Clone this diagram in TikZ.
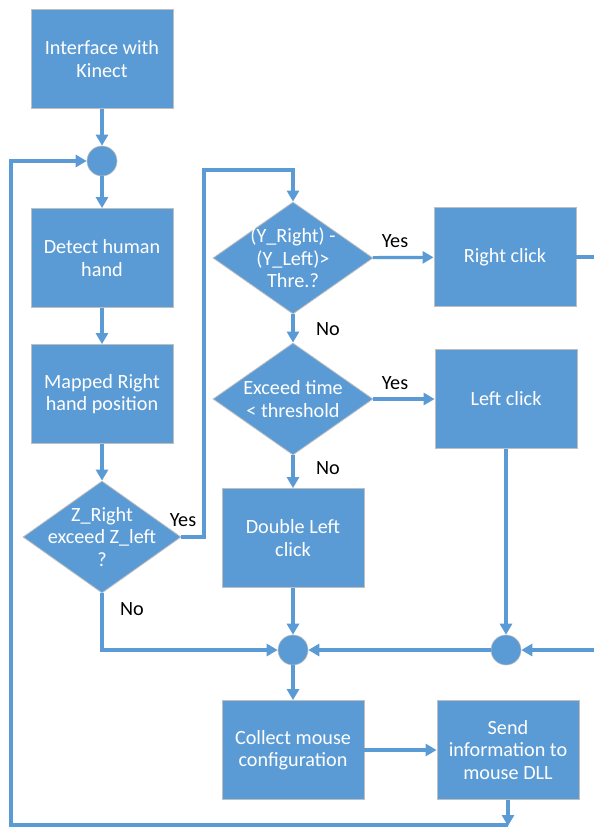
\documentclass[tikz,border=0pt]{standalone}
\usepackage{fontspec}
\setmainfont{Carlito}
\usetikzlibrary{arrows.meta,shapes.geometric}
\definecolor{blu}{HTML}{5B9BD5}
\definecolor{edge}{HTML}{BFBFBF}
\begin{document}
\begin{tikzpicture}[x=1pt,y=-1pt,
  box/.style={draw=edge, line width=0.8pt, fill=blu, text=white, minimum width=142pt, minimum height=99pt, inner sep=0pt, align=center, font=\fontsize{20.2}{22.5}\selectfont},
  dia/.style={diamond, draw=edge, line width=0.8pt, fill=blu, minimum width=160pt, minimum height=112pt, inner sep=0pt},
  dtext/.style={text=white, align=center, font=\fontsize{20.2}{22.5}\selectfont, inner sep=0pt},
  junc/.style={circle, draw=edge, line width=0.6pt, fill=blu, minimum size=30pt, inner sep=0pt},
  lab/.style={text=black, font=\fontsize{20.2}{22.5}\selectfont, inner sep=0pt},
  conn/.style={draw=blu, line width=3.2pt},
  arr/.style={conn, -{Triangle[length=11pt,width=12pt]}}
]
\useasboundingbox (0,0) rectangle (594,827);
\fill[white] (0,0) rectangle (594,827);

\node[box] (n1) at (102,59) {Interface with\\Kinect};
\node[junc] (c1) at (102,161) {};
\node[box] (n2) at (102,258) {Detect human\\hand};
\node[box] (n3) at (102,394) {Mapped Right\\hand position};
\node[dia, minimum width=158pt] (d1) at (102,537) {};
\node[dtext] at (d1) {Z\_Right\\exceed Z\_left\\?};

\node[dia] (d2) at (293,258) {};
\node[dtext] at (d2) {(Y\_Right) -\\(Y\_Left)>\\Thre.?};
\node[box] (rc) at (505,257) {Right click};
\node[dia] (d3) at (293,399) {};
\node[dtext] at (d3) {Exceed time\\< threshold};
\node[box] (lc) at (506,399) {Left click};
\node[box] (dl) at (293,538) {Double Left\\click};
\node[junc] (c2) at (293,650) {};
\node[junc] (c3) at (506,650) {};
\node[box] (cm) at (293,750) {Collect mouse\\configuration};
\node[box] (si) at (508,750) {Send\\information to\\mouse DLL};

\coordinate (up1) at (204,537);
\coordinate (up2) at (204,170);
\coordinate (up3) at (293,170);
\coordinate (ro1) at (612,257);
\coordinate (ro2) at (612,650);
\coordinate (lo1) at (102,650);
\coordinate (bot) at (508,826);
\coordinate (bl) at (11,825);
\coordinate (tl) at (11,161);

\draw[arr] (n1) -- (c1);
\draw[arr] (c1) -- (n2);
\draw[arr] (n2) -- (n3);
\draw[arr] (n3) -- (d1);
\draw[arr] (d1.east) -- (up1) -- (up2) -- (up3) -- (d2.north);
\draw[arr] (d2) -- (rc);
\draw[arr] (d2) -- (d3);
\draw[arr] (d3) -- (lc);
\draw[arr] (d3) -- (dl);
\draw[arr] (dl) -- (c2);
\draw[arr] (lc) -- (c3);
\draw[arr] (rc.east) -- (ro1) -- (ro2) -- (c3.east);
\draw[arr] (c3) -- (c2);
\draw[arr] (d1.south) -- (lo1) -- (c2.west);
\draw[arr] (c2) -- (cm);
\draw[arr] (cm) -- (si);
\draw[arr] (si) -- (bot);
\draw[arr] (508,825) -- (bl) -- (tl) -- (c1.west);

\node[lab] at (183,520) {Yes};
\node[lab] at (132,609) {No};
\node[lab] at (395,241) {Yes};
\node[lab] at (328,329) {No};
\node[lab] at (395,383) {Yes};
\node[lab] at (328,468) {No};
\end{tikzpicture}
\end{document}
